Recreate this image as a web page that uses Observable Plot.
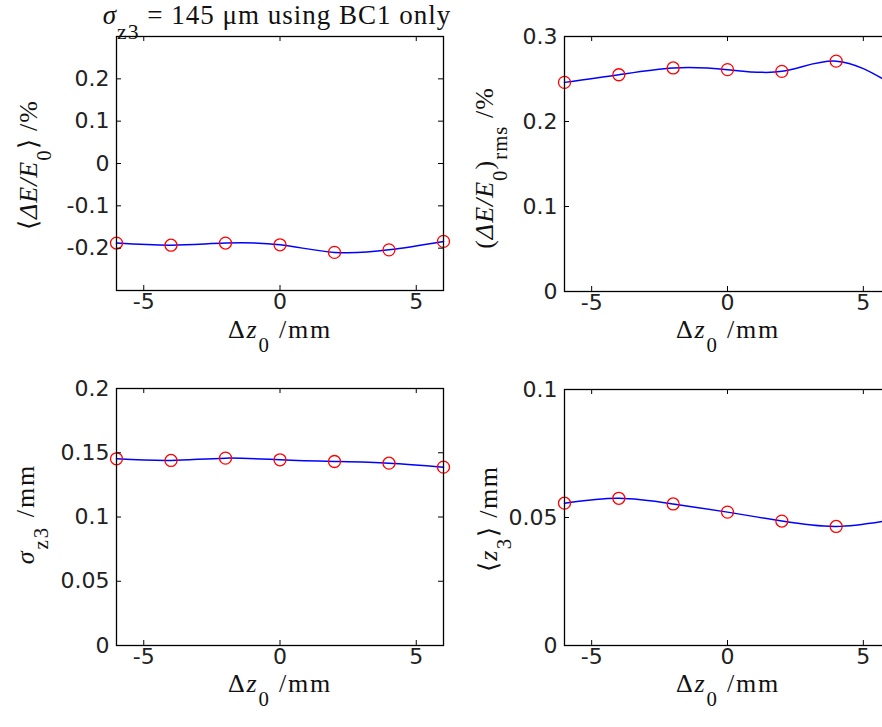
<!DOCTYPE html>
<html><head><meta charset="utf-8">
<script src="https://cdn.jsdelivr.net/npm/d3@7"></script>
<script src="https://cdn.jsdelivr.net/npm/@observablehq/plot@0.6"></script>
<style>
html,body{margin:0;padding:0;background:#fff;overflow:hidden}
#fig{position:relative;width:882px;height:727px;overflow:hidden;background:#fff}
#fig svg{position:absolute;max-width:none}
</style></head><body><div id="fig"></div>
<script>
// ---- data ----
const dz = [-6, -4, -2, 0, 2, 4, 6];                       // Δz0 / mm
const meanDE = [-0.188, -0.193, -0.188, -0.192, -0.210, -0.204, -0.184]; // <ΔE/E0> /%
const rmsDE = [0.246, 0.255, 0.263, 0.261, 0.259, 0.271, 0.245];        // (ΔE/E0)rms /%
const sigmaZ3 = [0.1453, 0.1440, 0.1458, 0.1445, 0.1432, 0.1419, 0.1388]; // σz3 /mm
const meanZ3 = [0.0556, 0.0575, 0.0553, 0.0521, 0.0486, 0.0465, 0.0490];  // <z3> /mm
const xTicks = [-5, 0, 5];
const yTicksTL = [-0.2, -0.1, 0, 0.1, 0.2];
const yTicksTR = [0, 0.1, 0.2, 0.3];
const yTicksBL = [0, 0.05, 0.1, 0.15, 0.2];
const yTicksBR = [0, 0.05, 0.1];

const panels = [
  {left: 0,   top: 0,   width: 460, height: 360, mL: 116, mR: 17, mT: 36, mB: 70, domain: [-0.3, 0.3], ticks: yTicksTL, values: meanDE},
  {left: 460, top: 0,   width: 460, height: 360, mL: 104, mR: 30, mT: 36, mB: 69, domain: [0, 0.3],    ticks: yTicksTR, values: rmsDE},
  {left: 0,   top: 360, width: 460, height: 367, mL: 116, mR: 17, mT: 28, mB: 82, domain: [0, 0.2],    ticks: yTicksBL, values: sigmaZ3},
  {left: 460, top: 360, width: 460, height: 367, mL: 104, mR: 30, mT: 29, mB: 82, domain: [0, 0.1],    ticks: yTicksBR, values: meanZ3}
];

const fig = document.getElementById("fig");
for (const p of panels) {
  const fw = p.width - p.mL - p.mR, fh = p.height - p.mT - p.mB;
  const data = dz.map((x, i) => ({x, y: p.values[i]}));
  const svg = Plot.plot({
    width: p.width, height: p.height,
    marginLeft: p.mL, marginRight: p.mR, marginTop: p.mT, marginBottom: p.mB,
    x: {domain: [-6, 6]}, y: {domain: p.domain},
    style: {fontFamily: "DejaVu Sans", fontSize: "22px", background: "transparent", color: "#222"},
    marks: [
      Plot.line(data, {x: "x", y: "y", curve: "natural", stroke: "#0000ff", strokeWidth: 1.5}),
      Plot.dot(data, {x: "x", y: "y", r: 6, stroke: "#ff0000", strokeWidth: 1.3, fill: "none"}),
      Plot.frame({stroke: "#000", strokeWidth: 1.3}),
      Plot.ruleX(xTicks, {x: d => d, insetTop: fh - 5, stroke: "#000"}),
      Plot.ruleX(xTicks, {x: d => d, insetBottom: fh - 5, stroke: "#000"}),
      Plot.ruleY(p.ticks, {y: d => d, insetRight: fw - 5, stroke: "#000"}),
      Plot.ruleY(p.ticks, {y: d => d, insetLeft: fw - 5, stroke: "#000"}),
      Plot.axisX({ticks: xTicks, tickSize: 0, tickPadding: 3, tickFormat: d => String(d), label: null}),
      Plot.axisY({ticks: p.ticks, tickSize: 0, tickPadding: 7, tickFormat: d => String(d), label: null})
    ]
  });
  svg.style.left = p.left + "px";
  svg.style.top = p.top + "px";
  fig.appendChild(svg);
}

// ---- text overlay: title and axis labels ----
const ov = d3.select(fig).append("svg").attr("width", 882).attr("height", 727)
  .style("left", "0px").style("top", "0px")
  .attr("font-family", "Liberation Serif, Times New Roman, serif").attr("fill", "#111");

function rich(x, y, parts, size, rotate, spacing) {
  const t = ov.append("text").attr("text-anchor", "middle").attr("font-size", size)
    .attr("letter-spacing", spacing || 0)
    .attr("transform", `translate(${x},${y})` + (rotate ? " rotate(-90)" : ""));
  let shift = 0;
  for (const q of parts) {
    const ts = t.append("tspan").text(q.t);
    if (q.it) ts.attr("font-style", "italic");
    const want = q.sub ? size * 0.55 : 0;
    if (q.sub) ts.attr("font-size", size * 0.8);
    if (want !== shift) { ts.attr("dy", want - shift); shift = want; }
  }
}

rich(277, 24, [{t: "σ", it: true}, {t: "z3", sub: true}, {t: " = 145 μm using BC1 only"}], 27, false, 1);

const xl = [{t: "Δ"}, {t: "z", it: true}, {t: "0", sub: true}, {t: " /mm"}];
rich(280, 338, xl, 26, false, 1.8);
rich(728, 338, xl, 26, false, 1.8);
rich(280, 692, xl, 26, false, 1.8);
rich(728, 692, xl, 26, false, 1.8);

rich(37, 165, [{t: "⟨"}, {t: "ΔE/E", it: true}, {t: "0", sub: true}, {t: "⟩ /%"}], 26, true, 1);
rich(493, 168, [{t: "("}, {t: "ΔE/E", it: true}, {t: "0", sub: true}, {t: ")"}, {t: "rms", sub: true}, {t: " /%"}], 26, true, 1);
rich(34, 514, [{t: "σ", it: true}, {t: "z3", sub: true}, {t: " /mm"}], 26, true, 2);
rich(497, 519, [{t: "⟨"}, {t: "z", it: true}, {t: "3", sub: true}, {t: "⟩ /mm"}], 26, true, 1.5);
</script></body></html>
